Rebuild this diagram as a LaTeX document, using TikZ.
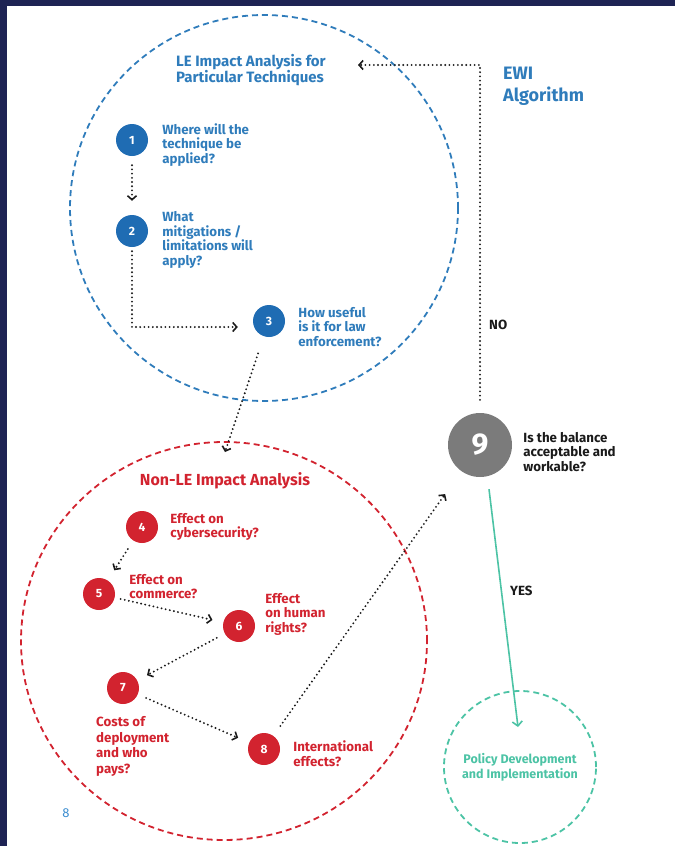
\documentclass[tikz,border=0pt]{standalone}
\usepackage{fontspec}
\setmainfont{Fira Sans}
\usetikzlibrary{arrows.meta,positioning,calc}

\definecolor{ewinavy}{HTML}{1E2354}
\definecolor{ewiblue}{HTML}{1F6CB3}
\definecolor{ewidash}{HTML}{2F7CBB}
\definecolor{ewired}{HTML}{D2232F}
\definecolor{ewigrey}{HTML}{7B7B7B}
\definecolor{ewiteal}{HTML}{4CC3A5}
\definecolor{ewiink}{HTML}{1A1A1A}
\definecolor{pageblue}{HTML}{3D8ED0}

\tikzset{
  num/.style={circle, minimum size=32pt, inner sep=0pt, text=white,
    font=\bfseries\fontsize{12}{12}\selectfont},
  qtext/.style={anchor=west, align=left, inner sep=0pt, text=ewiink,
    font=\bfseries\fontsize{13.3}{14.5}\selectfont},
  ring/.style={dash pattern=on 6pt off 4pt, line width=1.8pt},
  flow/.style={ewiink, line width=2.1pt, dash pattern=on 0pt off 4.2pt, line cap=round,
    -{Straight Barb[length=4pt,width=9pt,line width=1.6pt]}},
}

\begin{document}
\begin{tikzpicture}[x=1pt,y=1pt]
    \useasboundingbox (0,0) rectangle (675,-846);
    % page frame
    \fill[ewinavy] (0,0) rectangle (675,-6);
    \fill[ewinavy] (0,0) rectangle (7,-846);

    % the two dashed rings
    \draw[ring, ewidash] (264,-208) ellipse [x radius=194, y radius=193];
    \draw[ring, ewired] (224,-641) ellipse [x radius=203, y radius=199];

    % LE impact analysis
    \node[qtext, text=ewidash, font=\bfseries\fontsize{15}{16.5}\selectfont] (leTitle) at (176,-70)
        {LE Impact Analysis for\\Particular Techniques};
    \node[num, fill=ewiblue] (n1) at (132,-140) {1};
    \node[qtext, text=ewidash] (t1) at ([xshift=14pt,yshift=-5pt]n1.east)
        {Where will the\\technique be\\applied?};
    \node[num, fill=ewiblue] (n2) at (132,-231) {2};
    \node[qtext, text=ewidash] (t2) at ([xshift=14pt,yshift=-9pt]n2.east)
        {What\\mitigations /\\limitations will\\apply?};
    \node[num, fill=ewiblue] (n3) at (269,-321) {3};
    \node[qtext, text=ewidash] (t3) at ([xshift=13pt,yshift=-6pt]n3.east)
        {How useful\\is it for law\\enforcement?};

    % EWI title
    \node[qtext, text=ewidash, font=\bfseries\fontsize{18}{22}\selectfont] (ewi) at (503,-86)
        {EWI\\Algorithm};

    % Non-LE impact analysis
    \node[text=ewired, inner sep=0pt, font=\bfseries\fontsize{16}{18}\selectfont] (nonleTitle) at (225,-481)
        {Non-LE Impact Analysis};
    \node[num, fill=ewired] (n4) at (142,-527) {4};
    \node[qtext, text=ewired] (t4) at ([xshift=12pt]n4.east) {Effect on\\cybersecurity?};
    \node[num, fill=ewired] (n5) at (99,-594) {5};
    \node[qtext, text=ewired] (t5) at ([xshift=14pt,yshift=7.5pt]n5.east) {Effect on\\commerce?};
    \node[num, fill=ewired] (n6) at (239,-626) {6};
    \node[qtext, text=ewired] (t6) at ([xshift=10pt,yshift=12pt]n6.east) {Effect\\on human\\rights?};
    \node[num, fill=ewired] (n7) at (123,-688) {7};
    \node[qtext, text=ewired, font=\bfseries\fontsize{13.3}{15.7}\selectfont] (t7) at ([xshift=-27pt,yshift=-58.5pt]n7.center)
        {Costs of\\deployment\\and who\\pays?};
    \node[num, fill=ewired] (n8) at (264,-749) {8};
    \node[qtext, text=ewired] (t8) at ([xshift=13pt,yshift=-4.5pt]n8.east) {International\\effects?};

    % balance check
    \node[num, minimum size=64pt, fill=ewigrey, font=\bfseries\fontsize{30}{30}\selectfont] (n9) at (480,-445) {9};
    \node[qtext] (t9) at ([xshift=11pt,yshift=-7pt]n9.east) {Is the balance\\acceptable and\\workable?};

    % policy
    \node[circle, draw=ewiteal, ring, minimum size=152pt, inner sep=0pt, text=ewiteal, align=center,
        font=\bfseries\fontsize{12.5}{15}\selectfont] (policy) at (520,-767)
        {Policy Development\\and Implementation};

    \coordinate (nonleIn) at (225,-452);
    \coordinate (noEnd) at (358,-65);
    \coordinate (yesEnd) at (518,-727);

    % connectors
    \draw[flow, shorten <=9pt, shorten >=14pt] (n1) -- (n2);
    \draw[flow, shorten <=4pt, shorten >=15pt] (n2) |- ([yshift=-6pt]n3.west);
    \draw[flow, shorten <=18pt] (n3) -- (nonleIn);
    \draw[flow, shorten <=10pt, shorten >=12pt] (n4) -- (n5);
    \draw[flow, shorten <=6pt, shorten >=11pt] (n5) -- (n6);
    \draw[flow, shorten <=9pt, shorten >=11pt] (n6) -- (n7);
    \draw[flow, shorten <=9pt, shorten >=12pt] (n7) -- (n8);
    \draw[flow, shorten <=12pt, shorten >=28pt] (n8) -- (n9);
    \draw[flow] ([yshift=13pt]n9.north) |- (noEnd);
    \draw[ewiteal, line width=1.6pt, -{Straight Barb[length=4.5pt,width=10pt]}]
        ([xshift=9pt,yshift=-12pt]n9.south) -- (yesEnd);

    % labels
    \node[qtext] (no) at (489,-325) {NO};
    \node[qtext] (yes) at (510,-591) {YES};
    \node[text=pageblue, inner sep=0pt, font=\fontsize{13}{13}\selectfont] (pageno) at (66,-813) {8};
\end{tikzpicture}
\end{document}
